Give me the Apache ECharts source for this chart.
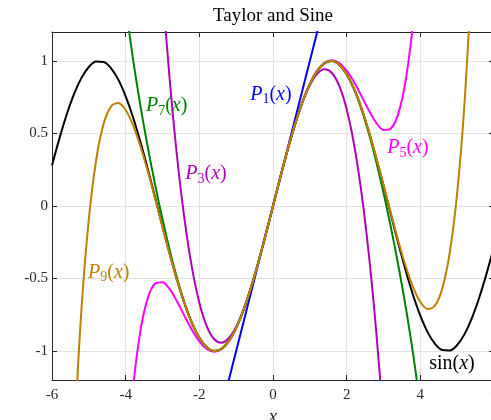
<!DOCTYPE html>
<html>
<head>
<meta charset="utf-8">
<script src="https://cdn.jsdelivr.net/npm/echarts@6/dist/echarts.min.js"></script>
<style>html,body{margin:0;padding:0;background:#fff;}#c{width:491px;height:420px;}</style>
</head>
<body>
<div id="c"></div>
<script>
const xs = [-6,-5.8,-5.6,-5.4,-5.2,-5,-4.8,-4.6,-4.4,-4.2,-4,-3.8,-3.6,-3.4,-3.2,-3,-2.8,-2.6,-2.4,-2.2,-2,-1.8,-1.6,-1.4,-1.2,-1,-0.8,-0.6,-0.4,-0.2,0,0.2,0.4,0.6,0.8,1,1.2,1.4,1.6,1.8,2,2.2,2.4,2.6,2.8,3,3.2,3.4,3.6,3.8,4,4.2,4.4,4.6,4.8,5,5.2,5.4,5.6,5.8,6];

const sinY = [0.2794,0.4646,0.6313,0.7728,0.8835,0.9589,0.9962,0.9937,0.9516,0.8716,0.7568,0.6119,0.4425,0.2555,0.0584,-0.1411,-0.3350,-0.5155,-0.6755,-0.8085,-0.9093,-0.9738,-0.9996,-0.9854,-0.9320,-0.8415,-0.7174,-0.5646,-0.3894,-0.1987,0,
0.1987,0.3894,0.5646,0.7174,0.8415,0.9320,0.9854,0.9996,0.9738,0.9093,0.8085,0.6755,0.5155,0.3350,0.1411,-0.0584,-0.2555,-0.4425,-0.6119,-0.7568,-0.8716,-0.9516,-0.9937,-0.9962,-0.9589,-0.8835,-0.7728,-0.6313,-0.4646,-0.2794];

const p1Y = [null,null,null,null,null,null,null,null,null,null,null,null,null,null,null,null,null,null,null,null,null,null,null,
-1.4,-1.2,-1.0,-0.8,-0.6,-0.4,-0.2,0,0.2,0.4,0.6,0.8,1.0,1.2,1.4,
null,null,null,null,null,null,null,null,null,null,null,null,null,null,null,null,null,null,null,null,null,null,null];

const p3Y = [null,null,null,null,null,null,null,null,null,null,null,null,null,null,
2.2613,1.5,0.8587,0.3293,-0.096,-0.4253,-0.6667,-0.828,-0.9173,-0.9427,-0.912,-0.8333,-0.7147,-0.564,-0.3893,-0.1987,0,
0.1987,0.3893,0.564,0.7147,0.8333,0.912,0.9427,0.9173,0.828,0.6667,0.4253,0.096,-0.3293,-0.8587,-1.5,-2.2613,
null,null,null,null,null,null,null,null,null,null,null,null,null,null];

const p5Y = [null,null,null,null,null,null,null,null,null,null,
-1.8667,-1.2576,-0.8628,-0.6356,-0.5349,-0.525,-0.5755,-0.6608,-0.7596,-0.8548,-0.9333,-0.9855,-1.0047,-0.9875,-0.9327,-0.8417,-0.7174,-0.5646,-0.3894,-0.1987,0,
0.1987,0.3894,0.5646,0.7174,0.8417,0.9327,0.9875,1.0047,0.9855,0.9333,0.8548,0.7596,0.6608,0.5755,0.525,0.5349,0.6356,0.8628,1.2576,1.8667,
null,null,null,null,null,null,null,null,null,null];

const p7Y = [null,null,null,null,null,null,null,null,null,null,
1.3841,1.0126,0.6920,0.4065,0.1469,-0.0911,-0.3078,-0.5014,-0.6686,-0.8053,-0.9079,-0.9734,-0.9994,-0.9854,-0.9320,-0.8415,-0.7174,-0.5646,-0.3894,-0.1987,0,
0.1987,0.3894,0.5646,0.7174,0.8415,0.9320,0.9854,0.9994,0.9734,0.9079,0.8053,0.6686,0.5014,0.3078,0.0911,-0.1469,-0.4065,-0.6920,-1.0126,-1.3841,
null,null,null,null,null,null,null,null,null,null];

const p9Y = [null,null,null,
-1.6131,-0.7114,-0.0896,0.3191,0.5650,0.6858,0.7106,0.6617,0.5573,0.4121,0.2392,0.0499,-0.1453,-0.3370,-0.5164,-0.6759,-0.8086,-0.9093,-0.9739,-0.9996,-0.9855,-0.9320,-0.8415,-0.7174,-0.5646,-0.3894,-0.1987,0,
0.1987,0.3894,0.5646,0.7174,0.8415,0.9320,0.9855,0.9996,0.9739,0.9093,0.8086,0.6759,0.5164,0.3370,0.1453,-0.0499,-0.2392,-0.4121,-0.5573,-0.6617,-0.7106,-0.6858,-0.5650,-0.3191,0.0896,0.7114,1.6131,
null,null,null];

const seriesNames = ['sin(x)','P1(x)','P3(x)','P5(x)','P7(x)','P9(x)'];
const seriesValues = [sinY, p1Y, p3Y, p5Y, p7Y, p9Y];
const seriesColors = ['#000000','#0000ff','#b000b8','#ff00ff','#008000','#bf8000'];

// label text parts: subscript index ('' for sin)
const labelSubs = ['', '1', '3', '5', '7', '9'];
// label anchors in data coordinates (left edge, vertical middle)
const labelAnchors = [[4.24,-1.09],[-0.62,0.77],[-2.38,0.22],[3.10,0.40],[-3.45,0.69],[-5.02,-0.46]];

const FF = "'Liberation Serif','DejaVu Serif','Times New Roman',serif";
const AX = '#262626';

const chart = echarts.init(document.getElementById('c'), null, {renderer: 'canvas'});

function axisCommon() {
  return {
    axisLine: {show: true, onZero: false, lineStyle: {color: AX, width: 1}},
    axisTick: {show: true, inside: true, length: 5, lineStyle: {color: AX, width: 1}},
  };
}

const option = {
  animation: false,
  backgroundColor: '#ffffff',
  grid: {left: 52, right: -3, top: 32, bottom: 40, containLabel: false, outerBoundsMode: 'none'},
  xAxis: [
    Object.assign({
      type: 'value', min: -6, max: 6, interval: 2, position: 'bottom',
      axisLabel: {color: AX, fontSize: 15, fontFamily: FF, margin: 8},
      splitLine: {show: true, lineStyle: {color: '#e3e3e3', width: 1}},
      name: 'x', nameLocation: 'middle', nameGap: 24,
      nameTextStyle: {fontFamily: FF, fontStyle: 'italic', fontSize: 19, color: AX}
    }, axisCommon()),
    Object.assign({
      type: 'value', min: -6, max: 6, interval: 2, position: 'top',
      axisLabel: {show: false}, splitLine: {show: false}
    }, axisCommon())
  ],
  yAxis: [
    Object.assign({
      type: 'value', min: -1.2, max: 1.2, position: 'left',
      axisLabel: {color: AX, fontSize: 15, fontFamily: FF, margin: 4, showMinLabel: false, showMaxLabel: false},
      splitLine: {show: true, lineStyle: {color: '#e3e3e3', width: 1}}
    }, axisCommon()),
    Object.assign({
      type: 'value', min: -1.2, max: 1.2, position: 'right',
      axisLabel: {show: false}, splitLine: {show: false}
    }, axisCommon())
  ],
  series: seriesValues.map((vals, i) => ({
    name: seriesNames[i],
    type: 'line',
    xAxisIndex: 0, yAxisIndex: 0,
    data: xs.map((x, j) => [x, vals[j]]),
    showSymbol: false,
    symbol: 'none',
    smooth: 0.33,
    clip: true,
    connectNulls: false,
    lineStyle: {color: seriesColors[i], width: 2},
    z: 2 + i
  }))
};
chart.setOption(option);

const rich = {
  p: {fontFamily: FF, fontStyle: 'italic', fontSize: 20, lineHeight: 24, verticalAlign: 'middle'},
  s: {fontFamily: FF, fontSize: 14, lineHeight: 14, verticalAlign: 'bottom'},
  n: {fontFamily: FF, fontSize: 20, lineHeight: 24, verticalAlign: 'middle'},
  i: {fontFamily: FF, fontStyle: 'italic', fontSize: 20, lineHeight: 24, verticalAlign: 'middle'}
};

const graphics = labelAnchors.map((a, i) => {
  const pt = chart.convertToPixel({xAxisIndex: 0, yAxisIndex: 0}, a);
  const txt = labelSubs[i] === '' ? '{n|sin(}{i|x}{n|)}' : '{p|P}{s|' + labelSubs[i] + '}{n|(}{i|x}{n|)}';
  return {
    type: 'text', x: pt[0], y: pt[1], z: 100,
    style: {text: txt, rich: rich, fill: seriesColors[i], align: 'left', verticalAlign: 'middle', font: '20px ' + FF}
  };
});
const titleX = chart.convertToPixel({xAxisIndex: 0}, 0);
graphics.push({
  type: 'text', x: titleX, y: 16, z: 100,
  style: {text: 'Taylor and Sine', fill: '#000', align: 'center', verticalAlign: 'middle', font: '19px ' + FF}
});
chart.setOption({graphic: graphics});
</script>
</body>
</html>
